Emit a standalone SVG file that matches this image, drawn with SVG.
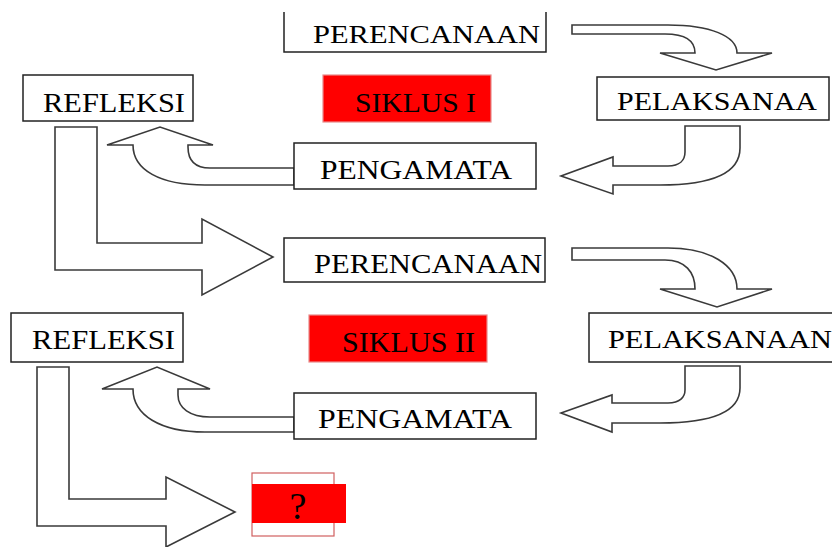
<svg xmlns="http://www.w3.org/2000/svg" width="832" height="547" viewBox="0 0 832 547">
<style>
.box{fill:#fff;stroke:#222;stroke-width:1.5}
.red{fill:#ff0000;stroke:#e88a8a;stroke-width:1.2}
.arr{fill:#fff;stroke:#3a3a3a;stroke-width:1.6;stroke-linejoin:miter}
text{font-family:"Liberation Serif","Times New Roman",serif;fill:#000}
</style>
<rect width="832" height="547" fill="#fff"/>
<g id="connectors">
<path class="arr" d="M572 25 L668 25 C710 25 737 36 737 53 L772 53 L716 70 L660 53 L695 53 C695 41 686 34 665 34 L572 34 Z"/>
<path class="arr" d="M685 126 L740 126 L740 148 C740 172 715 185 660 185 L613 185 L613 194 L561 176 L613 157 L613 166 L668 166 C680 166 685 160 685 152 Z"/>
<path class="arr" d="M294 168 L210 168 C195 168 188 160 188 147 L188 145 L213 145 L160 127 L107 145 L133 145 C133 170 160 185 205 185 L294 185 Z"/>
<path class="arr" d="M55 127 L97 127 L97 243 L202 243 L202 219 L273 257 L202 295 L202 270 L55 270 Z"/>
<path class="arr" d="M572 248 L668 248 C710 248 737 265 737 289 L772 289 L717 307 L660 289 L695 289 C695 272 685 260 665 260 L572 260 Z"/>
<path class="arr" d="M685 366 L740 366 L740 388 C740 410 715 423 660 423 L612 423 L612 432 L561 413 L612 395 L612 403 L668 403 C680 403 685 397 685 390 Z"/>
<path class="arr" d="M294 417 L210 417 C190 417 178 408 178 395 L178 389 L210 389 L157 367 L102 389 L133 389 C133 415 160 432 205 432 L294 432 Z"/>
<path class="arr" d="M37 367 L69 367 L69 499 L166 499 L166 477 L235 512 L166 547 L166 526 L37 526 Z"/>
</g>
<g id="perencanaan1">
<path d="M284 12 L284 52 L546 52 L546 12" fill="#fff" stroke="#222" stroke-width="1.5"/>
<text x="313" y="43" font-size="25" textLength="227" lengthAdjust="spacingAndGlyphs">PERENCANAAN</text>
</g>
<g id="pelaksanaan1">
<rect class="box" x="597" y="77" width="232" height="43"/>
<text x="617" y="110" font-size="25" textLength="200" lengthAdjust="spacingAndGlyphs">PELAKSANAA</text>
</g>
<g id="refleksi1">
<rect class="box" x="23" y="75" width="170" height="46"/>
<text x="43" y="112" font-size="28" textLength="142" lengthAdjust="spacingAndGlyphs">REFLEKSI</text>
</g>
<g id="siklus1">
<rect class="red" x="323" y="75" width="168" height="47"/>
<text x="355" y="112" font-size="27" textLength="121" lengthAdjust="spacingAndGlyphs">SIKLUS I</text>
</g>
<g id="pengamatan1">
<rect class="box" x="294" y="143" width="242" height="46"/>
<text x="320" y="179" font-size="28" textLength="192" lengthAdjust="spacingAndGlyphs">PENGAMATA</text>
</g>
<g id="perencanaan2">
<rect class="box" x="284" y="238" width="261" height="44"/>
<text x="314" y="273" font-size="27" textLength="228" lengthAdjust="spacingAndGlyphs">PERENCANAAN</text>
</g>
<g id="pelaksanaan2">
<rect class="box" x="589" y="313" width="260" height="49"/>
<text x="608" y="348" font-size="25" textLength="224" lengthAdjust="spacingAndGlyphs">PELAKSANAAN</text>
</g>
<g id="refleksi2">
<rect class="box" x="11" y="313" width="172" height="49"/>
<text x="32" y="349" font-size="28" textLength="143" lengthAdjust="spacingAndGlyphs">REFLEKSI</text>
</g>
<g id="siklus2">
<rect class="red" x="309" y="315" width="178" height="47"/>
<text x="342" y="352" font-size="29" textLength="133" lengthAdjust="spacingAndGlyphs">SIKLUS II</text>
</g>
<g id="pengamatan2">
<rect class="box" x="294" y="393" width="242" height="46"/>
<text x="318" y="428" font-size="28" textLength="194" lengthAdjust="spacingAndGlyphs">PENGAMATA</text>
</g>
<g id="unknown">
<rect x="252" y="473" width="82" height="63" fill="#fff" stroke="#d06060" stroke-width="1.2"/>
<rect x="252" y="484" width="94" height="39" fill="#ff0000"/>
<text x="298" y="519" font-size="38" text-anchor="middle">?</text>
</g>
</svg>
